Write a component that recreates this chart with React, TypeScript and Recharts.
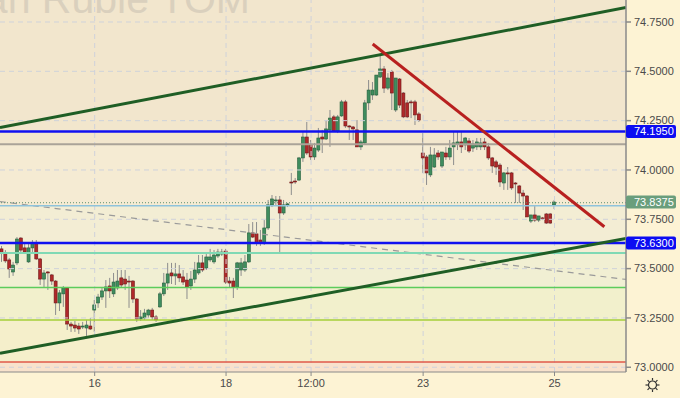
import React from 'react';
import { ComposedChart, Bar, XAxis, YAxis, ReferenceLine, ReferenceArea } from 'recharts';

const opens = [
  73.600, 73.579, 73.544, 73.483, 73.529, 73.655, 73.605, 73.534, 73.605, 73.630,
  73.549, 73.447, 73.483, 73.468, 73.437, 73.326, 73.372, 73.402, 73.219, 73.214,
  73.209, 73.204, 73.199, 73.209, 73.290, 73.326, 73.356, 73.387, 73.412, 73.372,
  73.402, 73.453, 73.447, 73.437, 73.437, 73.346, 73.245, 73.250, 73.265, 73.290,
  73.255, 73.306, 73.372, 73.427, 73.478, 73.463, 73.473, 73.458, 73.442, 73.412,
  73.447, 73.478, 73.529, 73.503, 73.544, 73.534, 73.564, 73.574, 73.589, 73.437,
  73.437, 73.407, 73.493, 73.493, 73.534, 73.681, 73.676, 73.645, 73.630, 73.706,
  73.823, 73.843, 73.848, 73.782, 73.823, 73.939, 73.944, 73.949, 74.061, 74.167,
  74.127, 74.066, 74.101, 74.167, 74.157, 74.203, 74.269, 74.198, 74.274, 74.345,
  74.223, 74.218, 74.203, 74.117, 74.137, 74.340, 74.380, 74.380, 74.471, 74.512,
  74.415, 74.497, 74.304, 74.461, 74.390, 74.340, 74.345, 74.345, 74.284, 74.086,
  74.066, 73.975, 74.015, 74.086, 74.020, 74.086, 74.066, 74.117, 74.132, 74.142,
  74.127, 74.147, 74.111, 74.117, 74.117, 74.142, 74.117, 74.061, 74.041, 74.025,
  73.934, 73.985, 73.985, 73.934, 73.919, 73.883, 73.868, 73.741, 73.772, 73.746,
  73.757, 73.777, 73.777, 73.823,
];
const highs = [
  73.615, 73.594, 73.554, 73.534, 73.660, 73.660, 73.625, 73.630, 73.645, 73.645,
  73.554, 73.493, 73.488, 73.473, 73.442, 73.392, 73.412, 73.407, 73.230, 73.235,
  73.225, 73.230, 73.240, 73.250, 73.341, 73.372, 73.402, 73.442, 73.453, 73.478,
  73.493, 73.493, 73.493, 73.463, 73.442, 73.351, 73.290, 73.296, 73.296, 73.301,
  73.265, 73.382, 73.478, 73.529, 73.529, 73.529, 73.518, 73.493, 73.478, 73.488,
  73.534, 73.569, 73.569, 73.574, 73.600, 73.594, 73.600, 73.600, 73.600, 73.458,
  73.453, 73.534, 73.554, 73.569, 73.726, 73.736, 73.736, 73.696, 73.746, 73.848,
  73.873, 73.868, 73.868, 73.848, 73.833, 73.985, 73.959, 74.066, 74.193, 74.243,
  74.152, 74.137, 74.213, 74.203, 74.253, 74.304, 74.279, 74.279, 74.355, 74.355,
  74.228, 74.223, 74.253, 74.152, 74.355, 74.456, 74.446, 74.481, 74.590, 74.527,
  74.491, 74.507, 74.466, 74.466, 74.395, 74.355, 74.355, 74.355, 74.294, 74.187,
  74.076, 74.117, 74.111, 74.101, 74.091, 74.117, 74.152, 74.193, 74.193, 74.193,
  74.167, 74.162, 74.152, 74.162, 74.162, 74.162, 74.137, 74.066, 74.051, 74.035,
  73.990, 74.015, 73.990, 73.939, 73.924, 73.899, 73.873, 73.772, 73.817, 73.767,
  73.762, 73.782, 73.782, 73.848,
];
const lows = [
  73.534, 73.529, 73.453, 73.463, 73.518, 73.574, 73.579, 73.529, 73.584, 73.544,
  73.417, 73.402, 73.392, 73.417, 73.265, 73.285, 73.306, 73.189, 73.179, 73.179,
  73.169, 73.194, 73.159, 73.189, 73.179, 73.301, 73.341, 73.301, 73.351, 73.356,
  73.392, 73.402, 73.392, 73.301, 73.326, 73.230, 73.235, 73.240, 73.250, 73.240,
  73.230, 73.301, 73.361, 73.392, 73.422, 73.417, 73.432, 73.417, 73.346, 73.392,
  73.427, 73.468, 73.483, 73.493, 73.534, 73.524, 73.554, 73.564, 73.422, 73.402,
  73.351, 73.392, 73.463, 73.483, 73.529, 73.655, 73.615, 73.615, 73.620, 73.696,
  73.812, 73.823, 73.579, 73.772, 73.812, 73.873, 73.929, 73.944, 74.041, 74.076,
  74.051, 74.051, 74.091, 74.086, 74.152, 74.117, 74.193, 74.187, 74.269, 74.213,
  74.152, 74.152, 74.117, 74.101, 74.127, 74.304, 74.355, 74.375, 74.466, 74.390,
  74.405, 74.304, 74.294, 74.314, 74.263, 74.263, 74.263, 74.228, 74.243, 73.985,
  73.924, 73.964, 74.010, 74.051, 74.010, 74.051, 74.051, 74.025, 74.101, 74.086,
  74.101, 74.086, 74.091, 74.101, 74.101, 74.101, 74.051, 73.985, 73.975, 73.914,
  73.899, 73.899, 73.899, 73.833, 73.833, 73.797, 73.762, 73.731, 73.736, 73.736,
  73.746, 73.726, 73.726, 73.802,
];
const closes = [
  73.579, 73.539, 73.498, 73.518, 73.650, 73.594, 73.584, 73.605, 73.630, 73.549,
  73.447, 73.478, 73.478, 73.437, 73.326, 73.377, 73.402, 73.219, 73.209, 73.199,
  73.194, 73.209, 73.214, 73.194, 73.316, 73.356, 73.387, 73.407, 73.387, 73.432,
  73.437, 73.417, 73.422, 73.432, 73.346, 73.245, 73.255, 73.275, 73.290, 73.255,
  73.240, 73.372, 73.427, 73.473, 73.463, 73.473, 73.453, 73.432, 73.407, 73.447,
  73.493, 73.529, 73.493, 73.559, 73.559, 73.569, 73.584, 73.584, 73.432, 73.427,
  73.407, 73.529, 73.529, 73.534, 73.681, 73.660, 73.630, 73.630, 73.706, 73.823,
  73.853, 73.848, 73.782, 73.823, 73.828, 73.934, 73.942, 74.061, 74.167, 74.086,
  74.066, 74.111, 74.162, 74.157, 74.208, 74.263, 74.198, 74.269, 74.345, 74.223,
  74.218, 74.208, 74.117, 74.142, 74.340, 74.405, 74.405, 74.481, 74.512, 74.415,
  74.466, 74.390, 74.466, 74.329, 74.269, 74.269, 74.340, 74.279, 74.253, 74.061,
  73.985, 74.076, 74.076, 74.066, 74.091, 74.066, 74.111, 74.137, 74.142, 74.117,
  74.162, 74.096, 74.132, 74.142, 74.137, 74.117, 74.061, 74.020, 74.015, 73.939,
  73.985, 73.980, 73.909, 73.929, 73.883, 73.868, 73.762, 73.772, 73.746, 73.767,
  73.752, 73.731, 73.731, 73.8375,
];

const xTickIndex = [24, 58, 80, 109, 143];
const xTickLabels = ['16', '18', '12:00', '23', '25'];
const yTicks = [73, 73.25, 73.5, 73.75, 74, 74.25, 74.5, 74.75];
const markedPrices = [74.195, 73.8375, 73.63];

// horizontal levels (price)
const levelPrices = [74.195, 74.13, 73.834, 73.819, 73.63, 73.579, 73.404, 73.24, 73.027];
// trend lines: [index, price] pairs
const upperChannel = [[-0.5, 74.2145], [161.5, 74.823]];
const lowerChannel = [[-0.5, 73.071], [161.5, 73.653]];
const resistanceLine = [[95.95, 74.6385], [155.9, 73.712]];
const dashedTrend = [[-0.5, 73.84], [161.5, 73.445]];

const X_DOMAIN: [number, number] = [-0.5, 161.5];
const Y_DOMAIN: [number, number] = [72.976, 74.8615];

const levelStyles = [
  { stroke: '#1010f0', w: 2.5 },
  { stroke: '#aaa398', w: 2 },
  { stroke: '#5f8f6f', w: 1, dash: '1 2' },
  { stroke: '#8fc3dc', w: 1.5 },
  { stroke: '#1010f0', w: 2.5 },
  { stroke: '#7fd9b4', w: 2 },
  { stroke: '#5ccc5c', w: 1.5 },
  { stroke: '#a5cf3a', w: 1.5 },
  { stroke: '#e0584a', w: 1.5 },
];
const bandFills = ['#F2E6CD', '#F5EBD3', '#F3EDD4', '#F1EFD3', '#F2F0CC', '#F5EFCB', '#F8E2CC'];
const markedFills = ['#0c0cf2', '#6a9e7c', '#0c0cf2'];

const data = opens.map((o, i) => ({
  i,
  range: [lows[i], highs[i]],
  o,
  h: highs[i],
  l: lows[i],
  c: closes[i],
}));

const Candle = (props: any) => {
  const { x, y, width, height, payload } = props;
  if (!payload || x == null || y == null) return null;
  const { o, h, l, c } = payload;
  const ratio = h - l > 0 ? height / (h - l) : 0;
  const cx = x + width / 2;
  const top = y + (h - Math.max(o, c)) * ratio;
  const bot = y + (h - Math.min(o, c)) * ratio;
  const up = c >= o;
  return (
    <g>
      <line x1={cx} x2={cx} y1={y} y2={y + height} stroke="#8d8d8d" strokeWidth={1} />
      <rect
        x={cx - 1.5}
        y={top}
        width={3}
        height={Math.max(1, bot - top)}
        fill={up ? '#3f8d5e' : '#b0282a'}
        stroke={up ? '#245f3c' : '#6d1717'}
        strokeWidth={0.6}
      />
    </g>
  );
};

const YTick = (props: any) => {
  const { x, y, payload } = props;
  const v = payload.value as number;
  const k = markedPrices.indexOf(v);
  if (k >= 0) {
    return (
      <g>
        <rect x={x - 8} y={y - 6.5} width={50} height={13} rx={2} fill={markedFills[k]} />
        <text x={x} y={y} dy="0.35em" fill="#ffffff" fontSize={11} fontFamily="Liberation Sans, Arial, sans-serif">
          {v.toFixed(4)}
        </text>
      </g>
    );
  }
  return (
    <text x={x} y={y} dy="0.35em" fill="#4a4a4a" fontSize={11} fontFamily="Liberation Sans, Arial, sans-serif">
      {v.toFixed(4)}
    </text>
  );
};

const bandEdges = [Y_DOMAIN[1], levelPrices[1], levelPrices[3], levelPrices[5], levelPrices[6], levelPrices[7], levelPrices[8], Y_DOMAIN[0]];

export default function App() {
  return (
    <div style={{ position: 'absolute', left: 0, top: 0, width: 680, height: 398, background: '#FDF3D4', fontFamily: 'Liberation Sans, Arial, sans-serif' }}>
      <ComposedChart width={680} height={398} data={data} margin={{ top: 0, right: 0, bottom: 0, left: 0 }}>
        <XAxis
          type="number"
          dataKey="i"
          domain={X_DOMAIN}
          allowDataOverflow
          ticks={xTickIndex}
          interval={0}
          tickFormatter={(v: number) => xTickLabels[xTickIndex.indexOf(v)] ?? ''}
          height={26}
          tickSize={4}
          tickMargin={3}
          stroke="#8a8a8a"
          tick={{ fill: '#4a4a4a', fontSize: 11 }}
        />
        <YAxis
          orientation="right"
          type="number"
          domain={Y_DOMAIN}
          allowDataOverflow
          ticks={[...yTicks, ...markedPrices]}
          interval={0}
          width={54}
          tickSize={5}
          tickMargin={3}
          stroke="#8a8a8a"
          strokeWidth={1.5}
          tick={<YTick />}
        />
        {bandFills.map((f, k) => (
          <ReferenceArea key={'b' + k} y1={bandEdges[k + 1]} y2={bandEdges[k]} fill={f} fillOpacity={1} stroke="none" ifOverflow="hidden" />
        ))}
        {yTicks.map((v) => (
          <ReferenceLine key={'gy' + v} y={v} stroke="#cfd2da" strokeDasharray="5 4" strokeWidth={1} />
        ))}
        {xTickIndex.map((v) => (
          <ReferenceLine key={'gx' + v} x={v} stroke="#cfd2da" strokeDasharray="5 4" strokeWidth={1} />
        ))}
        <ReferenceLine
          segment={dashedTrend.map(([x, y]) => ({ x, y }))}
          stroke="#9a9a9a"
          strokeDasharray="6 5"
          strokeWidth={1.2}
          ifOverflow="hidden"
        />
        {levelPrices.map((p, k) => (
          <ReferenceLine
            key={'lv' + k}
            y={p}
            stroke={levelStyles[k].stroke}
            strokeWidth={levelStyles[k].w}
            strokeDasharray={levelStyles[k].dash}
          />
        ))}
        <Bar dataKey="range" barSize={3} shape={Candle} isAnimationActive={false} />
        <ReferenceLine segment={upperChannel.map(([x, y]) => ({ x, y }))} stroke="#1f5e25" strokeWidth={3} ifOverflow="hidden" />
        <ReferenceLine segment={lowerChannel.map(([x, y]) => ({ x, y }))} stroke="#1f5e25" strokeWidth={3} ifOverflow="hidden" />
        <ReferenceLine segment={resistanceLine.map(([x, y]) => ({ x, y }))} stroke="#b8201f" strokeWidth={3} ifOverflow="hidden" />
      </ComposedChart>
      <svg width={680} height={398} style={{ position: 'absolute', left: 0, top: 0, pointerEvents: 'none' }}>
        <text x={250} y={13} textAnchor="end" fontSize={41} fill="#dad0bd" fontFamily="Liberation Sans, Arial, sans-serif">
          US Dollar / Russian Ruble TOM
        </text>
        <g transform="translate(652.5,385)" stroke="#333" strokeWidth={1.2} fill="none">
          <circle r={4} />
          {[0, 45, 90, 135, 180, 225, 270, 315].map((a) => (
            <line key={a} x1={0} y1={-4.5} x2={0} y2={-7} transform={`rotate(${a})`} />
          ))}
        </g>
      </svg>
    </div>
  );
}
